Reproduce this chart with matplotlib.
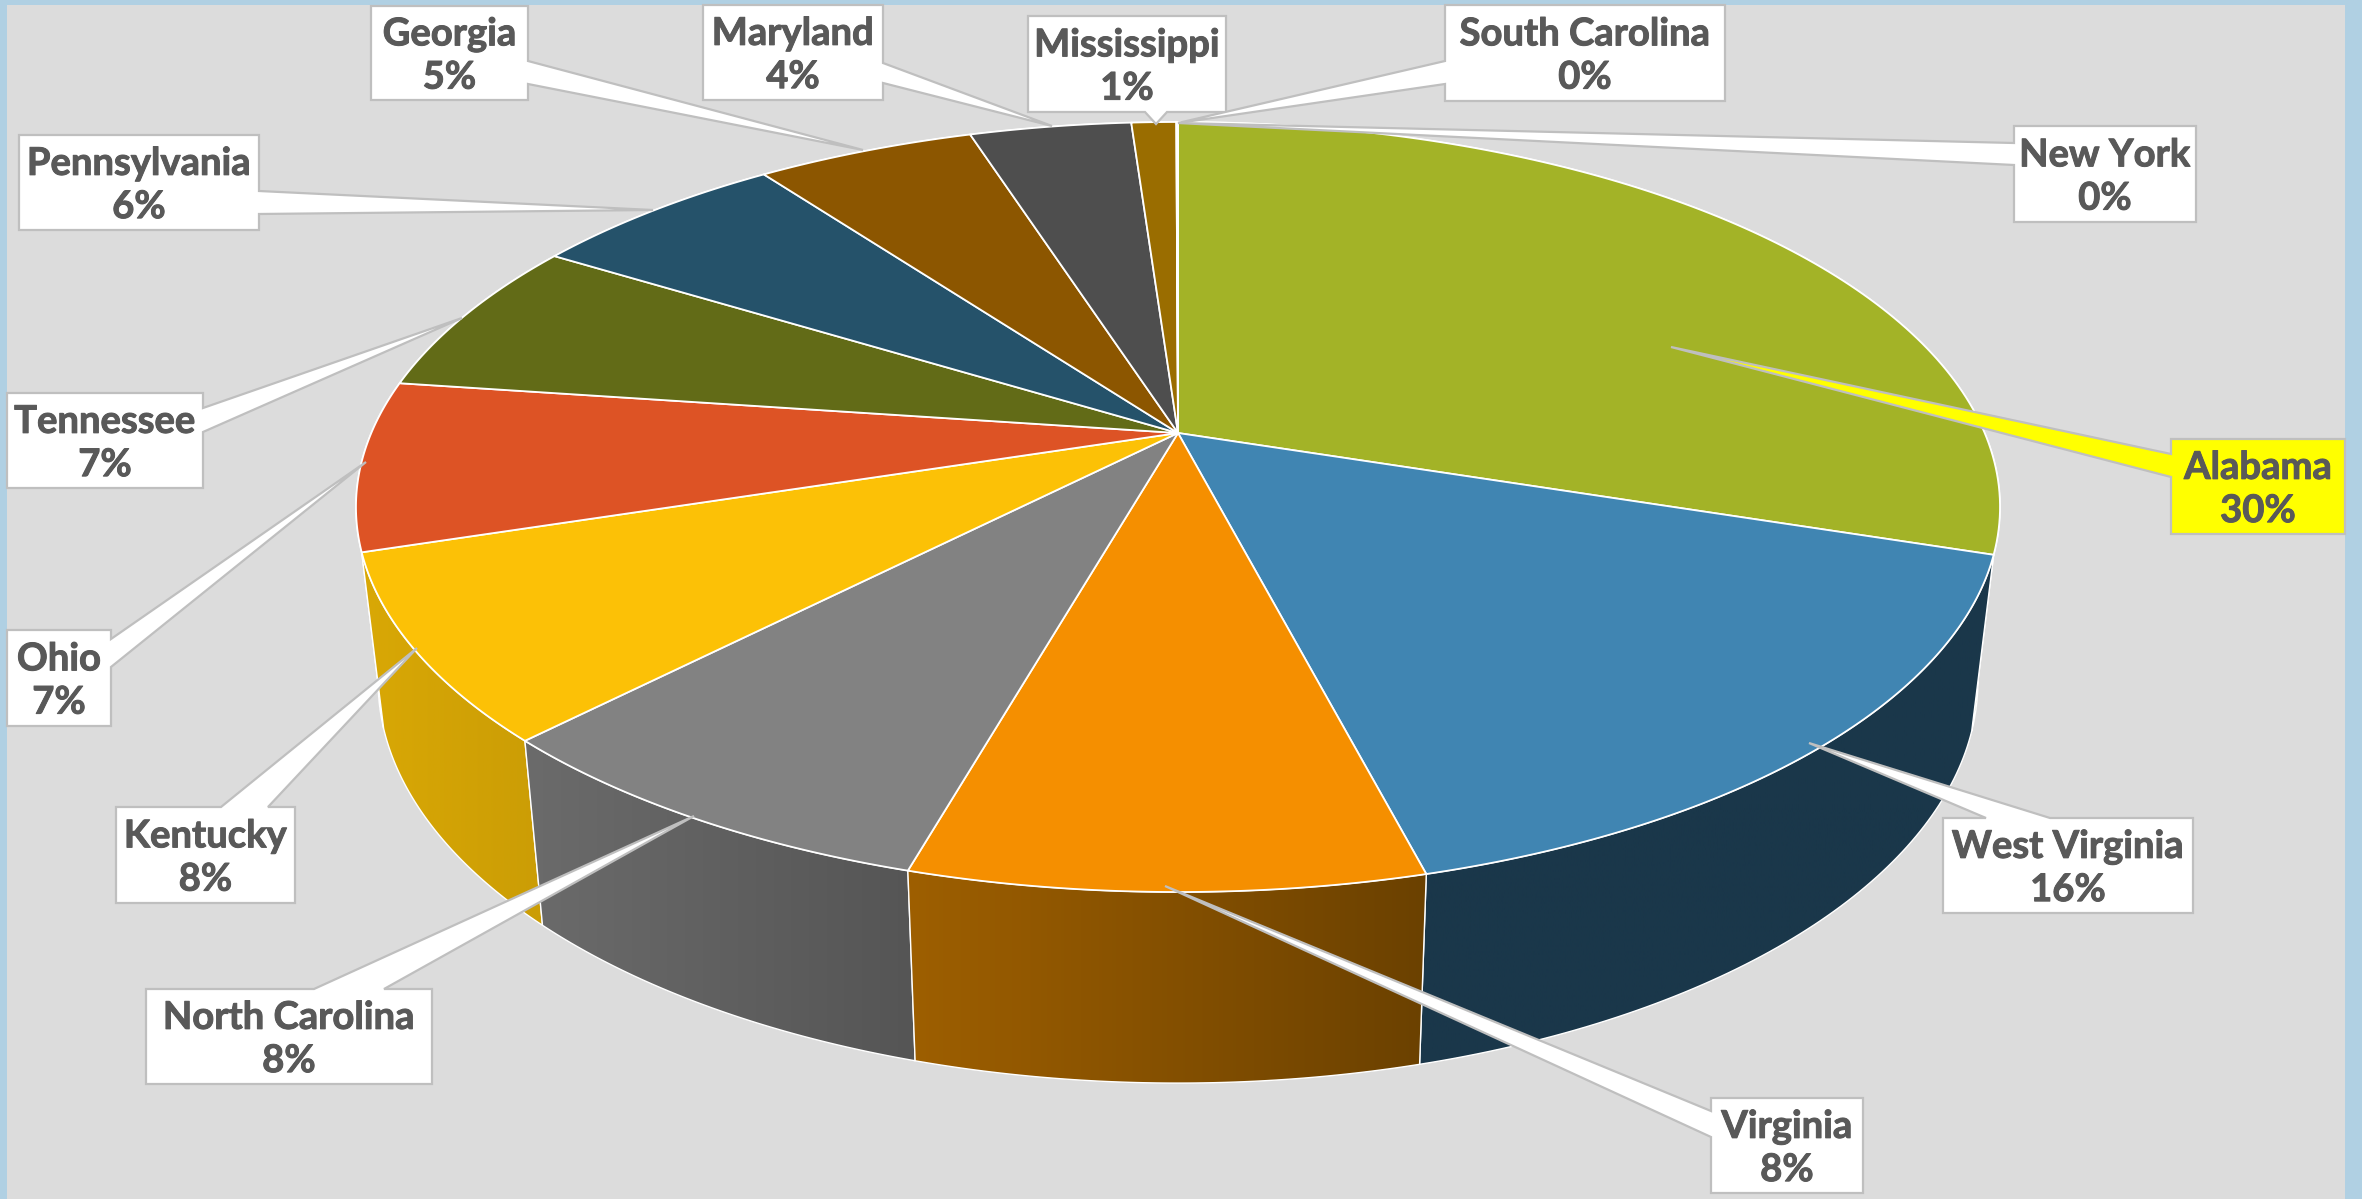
import numpy as np
import matplotlib
matplotlib.use("Agg")
import matplotlib.pyplot as plt
import matplotlib.patheffects as pe
from matplotlib.colors import LinearSegmentedColormap
from matplotlib.patches import Polygon, Rectangle

# chart data, clockwise from 12 o'clock
states = ['Alabama', 'West Virginia', 'Virginia', 'North Carolina', 'Kentucky', 'Ohio',
          'Tennessee', 'Pennsylvania', 'Georgia', 'Maryland', 'Mississippi',
          'South Carolina', 'New York']
shares = [30.0, 15.97, 8.43, 7.9, 7.8, 7.1, 6.6, 6.1, 5.17, 3.83, 1.06, 0.02, 0.02]

top_colors = ['#A3B327', '#4085B2', '#F58F00', '#828282', '#FCC106', '#DD5325',
              '#626B17', '#25526A', '#8C5600', '#4E4E4E', '#9A6D00', '#7F8A1E', '#A3B327']
rim_left = ['#6B7519', '#1A374A', '#9E5F00', '#6B6B6B', '#D9A805', '#A03C1A',
            '#4A5011', '#1B3D50', '#694000', '#3A3A3A', '#735100', '#5F6816', '#6B7519']
rim_right = ['#6B7519', '#1A374A', '#6B4100', '#555555', '#CB9D05', '#A03C1A',
             '#4A5011', '#1B3D50', '#694000', '#3A3A3A', '#735100', '#5F6816', '#6B7519']

# label boxes: left, right, top, bottom in pixels
boxes = [(2171, 2345, 439, 534), (1943, 2193, 818, 913), (1711, 1863, 1098, 1193),
         (146, 432, 989, 1084), (116, 295, 807, 903), (7, 111, 630, 726),
         (7, 203, 393, 488), (19, 259, 135, 230), (371, 528, 6, 100),
         (703, 883, 5, 100), (1028, 1226, 16, 112), (1445, 1725, 5, 101),
         (2014, 2196, 126, 222)]
# leader: side of the box, two points on that side, tip
leaders = [('l', 454, 477, (1671, 347)), ('t', 1986, 2050, (1809, 743)),
           ('l', 1111, 1137, (1165, 886)), ('t', 314, 384, (694, 816)),
           ('t', 221, 268, (417, 648)), ('r', 639, 667, (366, 462)),
           ('r', 408, 432, (462, 318)), ('r', 191, 214, (653, 210)),
           ('r', 61, 84, (863, 150)), ('r', 63, 83, (1052, 126)),
           ('b', 1145, 1167, (1156, 124)), ('l', 61, 84, (1178, 123)),
           ('l', 143, 165, (1178, 123))]

W, H = 2362, 1199
fig = plt.figure(figsize=(W / 100, H / 100), dpi=100, facecolor='#B0D0E3')
ax = fig.add_axes([0, 0, 1, 1])
ax.axis('off')
ax.add_patch(Rectangle((7, 4.5), 2345 - 7, H, fc='#DCDCDC', ec='none', zorder=0))

# perspective disc, angle measured clockwise from the top
K = 0.1922
CX = 1178


def disc(deg, cy, a, b):
    t = np.radians(deg)
    u, v = np.sin(t), np.cos(t)
    w = 1 + K * v
    return CX + a * u / w, cy - b * v / w


def top(deg):
    return disc(deg, 433, 806.7, 370.8)


def bottom(deg):
    return disc(deg, 604, 785, 387)


edges = np.cumsum([0] + shares) / sum(shares) * 360

# side wall first, the pieces at the back before the ones in front
order = sorted(range(len(shares)), key=lambda i: -np.cos(np.radians((edges[i] + edges[i + 1]) / 2)))
for rank, i in enumerate(order):
    a = np.linspace(edges[i], edges[i + 1], 80)
    xt, yt = top(a)
    xb, yb = bottom(a)
    px = np.r_[xt, xb[::-1]]
    py = np.r_[yt, yb[::-1]]
    z = 1 + rank * 0.01
    clip = Polygon(np.c_[px, py], closed=True, fc='none', ec='white', lw=1.0, zorder=z + 0.005)
    ax.add_patch(clip)
    cmap = LinearSegmentedColormap.from_list('rim', [rim_left[i], rim_right[i]])
    im = ax.imshow(np.linspace(0, 1, 256)[None, :], cmap=cmap, aspect='auto', zorder=z,
                   extent=[px.min(), px.max(), py.max(), py.min()])
    im.set_clip_path(clip)

# top face
for i in range(len(shares)):
    a = np.linspace(edges[i], edges[i + 1], 120)
    xt, yt = top(a)
    pts = np.c_[np.r_[CX, xt], np.r_[433, yt]]
    ax.add_patch(Polygon(pts, closed=True, fc=top_colors[i], ec='white', lw=1.3,
                         joinstyle='round', zorder=3))

# callouts
for i, name in enumerate(states):
    x0, x1, y0, y1 = boxes[i]
    side, p, q, tip = leaders[i]
    pts = [(x0, y0)]
    if side == 't':
        pts += [(p, y0), tip, (q, y0)]
    pts.append((x1, y0))
    if side == 'r':
        pts += [(x1, p), tip, (x1, q)]
    pts.append((x1, y1))
    if side == 'b':
        pts += [(q, y1), tip, (p, y1)]
    pts.append((x0, y1))
    if side == 'l':
        pts += [(x0, q), tip, (x0, p)]
    fill = '#FFFF00' if name == 'Alabama' else 'white'
    ax.add_patch(Polygon(pts, closed=True, fc=fill, ec='#BFBFBF', lw=1.6,
                         joinstyle='miter', zorder=5))
    ax.text((x0 + x1) / 2, (y0 + y1) / 2 + 3, f'{name}\n{shares[i]:.0f}%', ha='center', va='center',
            family='Lato', weight='bold', fontsize=27.5, color='#595959',
            linespacing=1.33, zorder=6,
            path_effects=[pe.withStroke(linewidth=0.7, foreground='#595959')])

ax.set_xlim(0, W)
ax.set_ylim(H, 0)
fig.savefig('out.png', dpi=100, facecolor=fig.get_facecolor())
